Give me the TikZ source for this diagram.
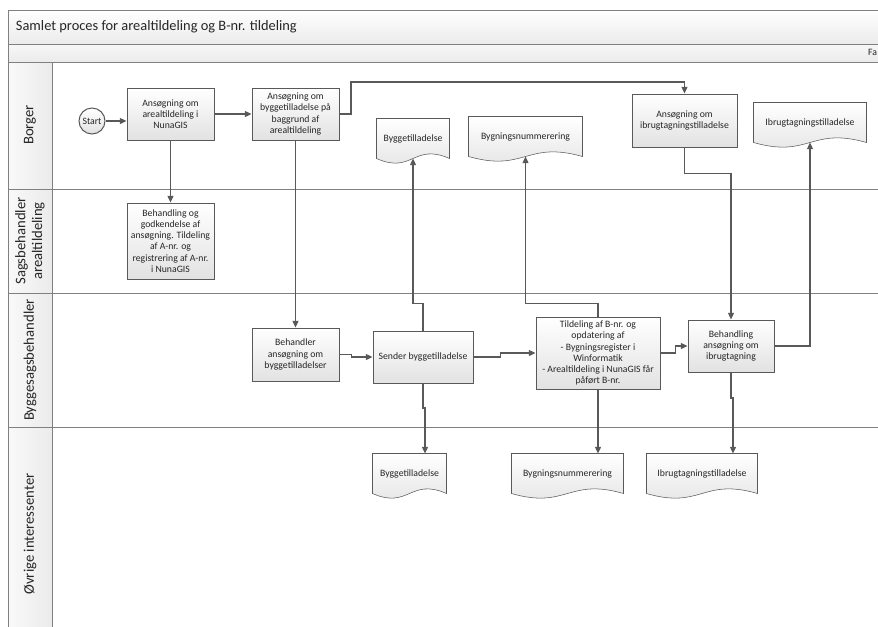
\documentclass[tikz,border=0pt]{standalone}
\usepackage{fontspec}
\setmainfont{Carlito}
\usetikzlibrary{arrows.meta,backgrounds}

\definecolor{lineGray}{HTML}{595959}
\definecolor{laneGray}{HTML}{808080}
\definecolor{fillGray}{HTML}{E2E2E2}
\definecolor{headGray}{HTML}{EBEBEB}
\definecolor{textGray}{HTML}{262626}

\tikzset{every picture/.style={line width=0.75pt}}
\tikzset{
  boxtext/.style={font=\fontsize{7.3}{8.4}\selectfont, text=textGray, align=center},
  procbox/.style={boxtext, draw=lineGray, top color=white, bottom color=fillGray, inner sep=1pt},
  docbox/.style={boxtext, inner sep=1pt},
  docline/.style={draw=lineGray, top color=white, bottom color=fillGray},
  startnode/.style={boxtext, circle, draw=lineGray, top color=white, bottom color=fillGray, minimum size=19.5pt, inner sep=0pt},
  flow/.style={draw=lineGray, line width=0.9pt, -{Triangle[length=5pt,width=4.5pt]}},
  laneline/.style={draw=laneGray, line width=0.75pt},
  lanetext/.style={rotate=90, font=\fontsize{11}{12.5}\selectfont, text=textGray, align=center}
}

\begin{document}
\begin{tikzpicture}[x=0.75pt,y=0.75pt,yscale=-1,xscale=1]
\clip (0,0) rectangle (878,626);

%Shape: Title band
\draw  [laneline, top color=white, bottom color=headGray] (8,10) rectangle (884,44) ;
%Shape: Phase band
\draw  [laneline, top color=white!60!headGray, bottom color=headGray] (8,44) rectangle (884,62) ;
%Shape: Lane column
\draw  [laneline, left color=white!70!headGray, right color=headGray] (8,62) rectangle (52,640) ;
%Straight Lines: lane borders
\draw  [laneline] (52,189) -- (884,189) ;
\draw  [laneline] (52,293) -- (884,293) ;
\draw  [laneline] (52,427) -- (884,427) ;
\draw  [laneline] (8,189) -- (52,189) (8,293) -- (52,293) (8,427) -- (52,427) ;

% Text Node
\node [anchor=west, font=\fontsize{10.8}{12}\selectfont, text=textGray] (title) at (11,27) {Samlet proces for arealtildeling og B-nr. tildeling};
% Text Node
\node [anchor=east, boxtext, inner sep=0pt] (fase) at (877.5,52) {Fa};

% Lane labels
\node [lanetext] (borger) at (30,125) {Borger};
\node [lanetext] (sagsb) at (30,241) {Sagsbehandler\\arealtildeling};
\node [lanetext] (byggesb) at (30,360) {Byggesagsbehandler};
\node [lanetext] (ovrige) at (30,534) {Øvrige interessenter};

% Process nodes
\node [startnode] (start) at (92,121) {Start};
\node [procbox, minimum width=65.25pt, minimum height=39pt] (ansAreal) at (170.5,114) {Ansøgning om\\arealtildeling i\\NunaGIS};
\node [procbox, minimum width=65.25pt, minimum height=39pt] (ansByg) at (295.5,114) {Ansøgning om\\byggetilladelse på\\baggrund af\\arealtildeling};
\node [procbox, minimum width=65.25pt, minimum height=57pt] (behAreal) at (170.5,241) {Behandling og\\godkendelse af\\ansøgning. Tildeling\\af A-nr. og\\registrering af A-nr.\\i NunaGIS};
\node [procbox, minimum width=78.75pt, minimum height=39.75pt] (ansIbrug) at (684.5,120.5) {Ansøgning om\\ibrugtagningstilladelse};
\node [procbox, minimum width=65.25pt, minimum height=39.75pt] (behByg) at (295.5,354.5) {Behandler\\ansøgning om\\byggetilladelser};
\node [procbox, minimum width=75pt, minimum height=39pt] (sendByg) at (423,357) {Sender byggetilladelse};
\node [procbox, minimum width=93pt, minimum height=54pt] (tildBnr) at (598,353) {Tildeling af B-nr. og\\opdatering af\\- Bygningsregister i\\Winformatik\\- Arealtildeling i NunaGIS får\\påført B-nr.};
\node [procbox, minimum width=64.5pt, minimum height=39pt] (behIbrug) at (731,346) {Behandling\\ansøgning om\\ibrugtagning};

% Document nodes
\node [docbox, minimum width=54pt, minimum height=29.25pt] (docBygU) at (413,138.5) {Byggetilladelse};
\node [docbox, minimum width=84.75pt, minimum height=29.25pt] (docNumU) at (525.5,136.5) {Bygningsnummerering};
\node [docbox, minimum width=84pt, minimum height=29.25pt] (docIbrU) at (810,122.5) {Ibrugtagningstilladelse};
\node [docbox, minimum width=54.75pt, minimum height=29.25pt] (docBygL) at (409.5,473.5) {Byggetilladelse};
\node [docbox, minimum width=83.25pt, minimum height=29.25pt] (docNumL) at (567.5,473.5) {Bygningsnummerering};
\node [docbox, minimum width=82.5pt, minimum height=29.25pt] (docIbrL) at (702,473.5) {Ibrugtagningstilladelse};

%Shape: Document outlines
\begin{scope}[on background layer]
\foreach \d/\w in {docBygU/72,docNumU/113,docIbrU/112,docBygL/73,docNumL/111,docIbrL/110}
  \draw [docline] (\d.south west) -- (\d.north west) -- (\d.north east) -- (\d.south east) .. controls +(-0.5*\w,-16) and +(0.5*\w,16) .. (\d.south west) -- cycle ;
\end{scope}

% Bends
\coordinate (upBend) at (351,82);
\coordinate (jogByg) at (425,408);
\coordinate (jogIbr) at (733,398);

% Connectors
\draw [flow] (start.east) -- (start.east -| ansAreal.west) ;
\draw [flow] (ansAreal.east) -- (ansByg.west) ;
\draw [flow] (ansAreal.south) -- (behAreal.north) ;
\draw [flow] (ansByg.south) -- (behByg.north) ;
\draw [flow] (ansByg.east) -| (upBend) -| (ansIbrug.north) ;
\draw [flow] (ansIbrug.south) -- ++(0,26) -| (behIbrug.north) ;
\draw [flow] (behByg.east) -- ++(12,0) |- (sendByg.west) ;
\draw [flow] (sendByg.east) -- ++(27,0) |- (tildBnr.west) ;
\draw [flow] (tildBnr.east) -- ++(15,0) |- (behIbrug.west) ;
\draw [flow] (sendByg.north) -- ++(0,-27) -| (docBygU.south) ;
\draw [flow] (tildBnr.north) -- ++(0,-13) -| (docNumU.south) ;
\draw [flow] (behIbrug.east) -| (docIbrU.south) ;
\draw [flow] (sendByg.south) |- (jogByg) -- (jogByg |- docBygL.north) ;
\draw [flow] (tildBnr.south) -- (tildBnr.south |- docNumL.north) ;
\draw [flow] (behIbrug.south) |- (jogIbr) -- (jogIbr |- docIbrL.north) ;

\end{tikzpicture}
\end{document}
